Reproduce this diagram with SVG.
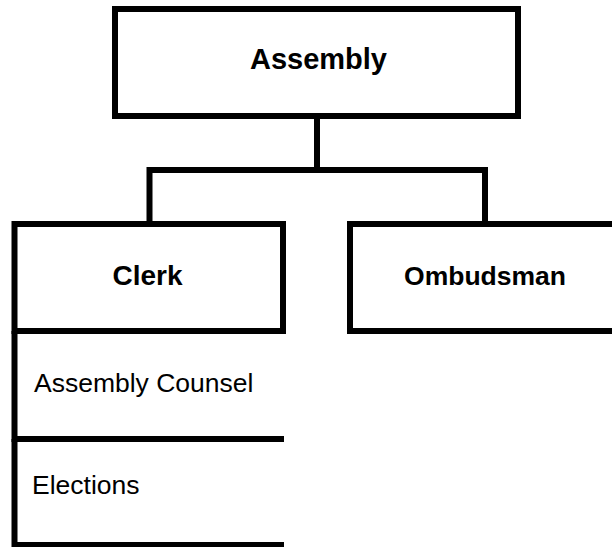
<svg xmlns="http://www.w3.org/2000/svg" width="612" height="547" viewBox="0 0 612 547">
<style>
.box{fill:#fff;stroke:#000;stroke-width:6}
.ln{fill:none;stroke:#000;stroke-width:6;stroke-linejoin:miter}
.b{font-family:"Liberation Sans",Arial,sans-serif;font-weight:bold;font-size:27px;fill:#000;text-anchor:middle}
.r{font-family:"Liberation Sans",Arial,sans-serif;font-size:26.5px;fill:#000}
</style>
<rect width="612" height="547" fill="#fff"/>
<g id="connectors">
<path class="ln" d="M317,116 V170 M146.5,170 H488 M149.5,170 V224 M485,170 V224"/>
</g>
<g id="assembly">
<rect class="box" x="115" y="9" width="403" height="107"/>
<text class="b" x="318.5" y="69" style="font-size:29px">Assembly</text>
</g>
<g id="clerk">
<rect class="box" x="14.5" y="224" width="268.5" height="107"/>
<text class="b" x="147.5" y="285" style="font-size:28px">Clerk</text>
</g>
<g id="ombudsman">
<rect class="box" x="350" y="224" width="270" height="107"/>
<text class="b" x="485" y="285" style="font-size:26.5px">Ombudsman</text>
</g>
<g id="assembly-counsel">
<path class="ln" d="M14.5,331 V439 H284"/>
<text class="r" x="34" y="392">Assembly Counsel</text>
</g>
<g id="elections">
<path class="ln" d="M14.5,439 V545 H284"/>
<text class="r" x="32" y="494">Elections</text>
</g>
</svg>
